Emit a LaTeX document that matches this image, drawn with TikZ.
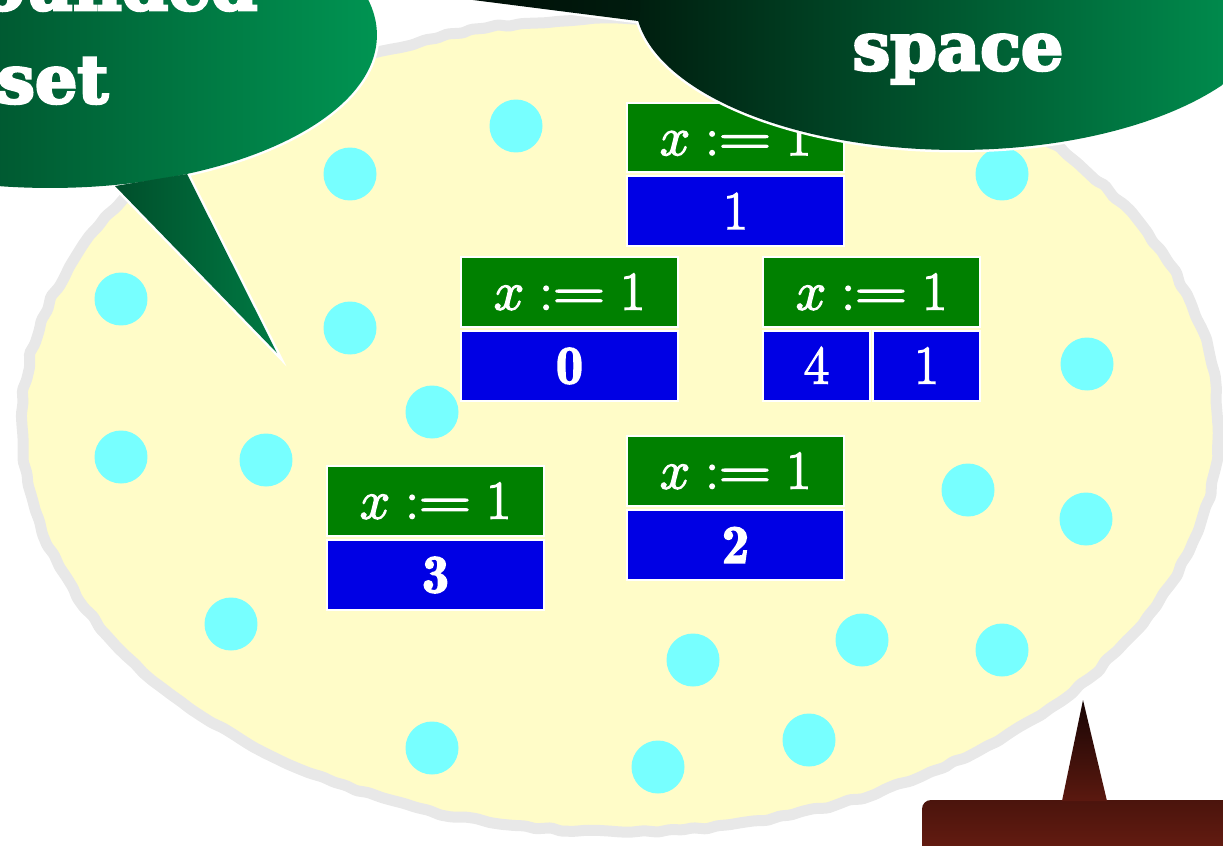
\RequirePackage{fix-cm}
\documentclass[tikz,border=0pt]{standalone}
\usepackage{fontspec}
\usepackage{graphicx}
\usepackage{tikz}
\usetikzlibrary{positioning,decorations.pathmorphing}
\newfontfamily\callfont{DejaVu Serif}
\newcommand{\asg}{\mathrel{:}\mathrel{\scalebox{1.33}[1]{$=$}}}
\makeatletter
\newcommand{\heavybegin}[1]{\pgfsys@invoke{q 2 Tr #1 w}}
\newcommand{\heavyend}{\pgfsys@invoke{Q}}
\makeatother
\definecolor{blobfill}{RGB}{255,252,200}
\definecolor{blobedge}{RGB}{232,232,232}
\definecolor{dotcyan}{RGB}{119,255,255}
\definecolor{asgngreen}{RGB}{0,128,0}
\definecolor{valblue}{RGB}{0,0,228}
\definecolor{callblack}{RGB}{0,0,0}
\definecolor{calldark}{RGB}{0,30,15}
\definecolor{callmid}{RGB}{0,48,26}
\definecolor{calllight}{RGB}{0,148,82}
\definecolor{redtop}{RGB}{24,5,4}
\definecolor{redbot}{RGB}{156,44,26}

\begin{document}
\begin{tikzpicture}[x=0.02cm,y=-0.02cm,
  dot/.style={circle,fill=dotcyan,minimum size=1.06cm,inner sep=0pt},
  asgn/.style={fill=asgngreen,draw=white,line width=0.04cm,text=white,minimum width=4.34cm,minimum height=1.4cm,inner sep=0pt,font=\fontsize{31}{37}\selectfont,
    execute at begin node=\heavybegin{0.8},execute at end node=\heavyend},
  val/.style={asgn,fill=valblue},
  halfval/.style={val,minimum width=2.14cm},
  calltext/.style={text=white,inner sep=0pt,font=\callfont\bfseries\fontsize{38}{50}\selectfont,
    execute at begin node=\heavybegin{1.5},execute at end node=\heavyend},
  rim/.style={draw=white,line width=0.1cm}]
\useasboundingbox (0,0) rectangle (1223,845);
\clip (0,0) rectangle (1223,845);

% the set of states
\pgfmathsetseed{3}
\draw[fill=blobfill,draw=blobedge,line width=0.22cm,rounded corners=1pt,decorate,decoration={random steps,segment length=7pt,amplitude=1pt}] (620,425) ellipse [x radius=11.96cm,y radius=8.14cm];

\node[dot] (s1) at (516,126) {};
\node[dot] (s2) at (350,174) {};
\node[dot] (s3) at (1002,174) {};
\node[dot] (s4) at (121,299) {};
\node[dot] (s5) at (350,328) {};
\node[dot] (s6) at (432,412) {};
\node[dot] (s7) at (1087,364) {};
\node[dot] (s8) at (121,457) {};
\node[dot] (s9) at (266,460) {};
\node[dot] (s10) at (968,490) {};
\node[dot] (s11) at (1086,519) {};
\node[dot] (s12) at (231,624) {};
\node[dot] (s13) at (862,640) {};
\node[dot] (s14) at (693,660) {};
\node[dot] (s15) at (1002,650) {};
\node[dot] (s16) at (432,748) {};
\node[dot] (s17) at (658,767) {};
\node[dot] (s18) at (809,740) {};

% assignment boxes
\node[asgn] (g1) at (735.5,137.5) {$x \asg 1$};
\node[val,below=0.04cm of g1] (v1) {$1$};
\node[asgn] (g0) at (569.5,292) {$x \asg 1$};
\node[val,below=0.04cm of g0] (v0) {$\mathbf{0}$};
\node[asgn] (g41) at (871.5,292) {$x \asg 1$};
\node[halfval,anchor=north west] (v41a) at ([yshift=-0.04cm]g41.south west) {$4$};
\node[halfval,anchor=north east] (v41b) at ([yshift=-0.04cm]g41.south east) {$1$};
\node[asgn] (g2) at (735.5,471) {$x \asg 1$};
\node[val,below=0.04cm of g2] (v2) {$\mathbf{2}$};
\node[asgn] (g3) at (435.5,501) {$x \asg 1$};
\node[val,below=0.04cm of g3] (v3) {$\mathbf{3}$};

% left callout
\coordinate (lbaseA) at (115,186);
\coordinate (ltip) at (277,353);
\coordinate (lbaseB) at (187,174);
\coordinate (lshA) at (0,-130);
\coordinate (lshB) at (377,360);
\path[rim] (50,35) ellipse [x radius=6.54cm,y radius=3.06cm];
\path[rim] (lbaseA) -- (ltip) -- (lbaseB) -- cycle;
\path[path picture={\shade[left color=callmid,right color=calllight] (lshA) rectangle (lshB);}] (50,35) ellipse [x radius=6.54cm,y radius=3.06cm];
\path[path picture={\shade[left color=callmid,right color=calllight] (lshA) rectangle (lshB);}] (lbaseA) -- (ltip) -- (lbaseB) -- cycle;
\node[calltext,anchor=base east] (unbnd) at (258,10) {Unbounded};
\node[calltext,anchor=base west] (setword) at (-3,103) {set};

% right callout
\coordinate (rbaseA) at (638,21);
\coordinate (rtip) at (300,-22);
\coordinate (rbaseB) at (662,-60);
\coordinate (rshA) at (635,-160);
\coordinate (rshB) at (1280,160);
\coordinate (pshA) at (300,-160);
\coordinate (pshB) at (640,160);
\path[rim] (957,0) ellipse [x radius=6.44cm,y radius=3cm];
\path[rim] (rbaseA) -- (rtip) -- (rbaseB) -- cycle;
\path[path picture={\shade[left color=calldark,right color=calllight] (rshA) rectangle (rshB);}] (957,0) ellipse [x radius=6.44cm,y radius=3cm];
\path[path picture={\shade[left color=callblack,right color=calldark] (pshA) rectangle (pshB);}] (rbaseA) -- (rtip) -- (rbaseB) -- cycle;
\node[calltext,anchor=base] (spaceword) at (958,70) {space};

% bottom callout
\coordinate (bbaseA) at (1062,801);
\coordinate (btip) at (1083,700);
\coordinate (bbaseB) at (1107,801);
\coordinate (bshA) at (900,700);
\coordinate (bshB) at (1330,900);
\path[rounded corners=0.18cm,path picture={\shade[top color=redtop,bottom color=redbot] (bshA) rectangle (bshB);}] (922,800) rectangle (1330,960);
\path[path picture={\shade[top color=redtop,bottom color=redbot] (bshA) rectangle (bshB);}] (bbaseA) -- (btip) -- (bbaseB) -- cycle;
\end{tikzpicture}
\end{document}
